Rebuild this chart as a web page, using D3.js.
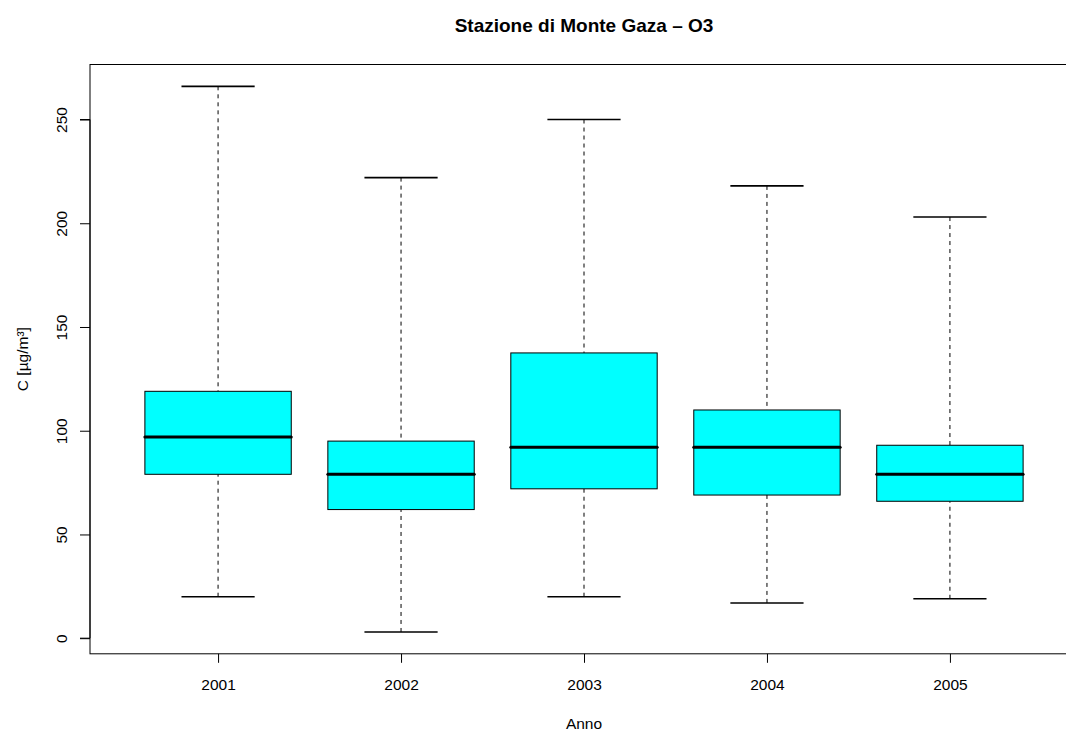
<!DOCTYPE html>
<html><head><meta charset="utf-8">
<script src="https://cdn.jsdelivr.net/npm/d3@7"></script>
<style>body{margin:0;background:#fff;overflow:hidden}svg{display:block;font-family:"Liberation Sans",Arial,sans-serif}</style>
</head><body>
<script>
const categories = ["2001","2002","2003","2004","2005"];
const whiskerLow = [20, 3, 20, 17, 19];
const q1 = [79, 62, 72, 69, 66];
const medians = [97, 79, 92, 92, 79];
const q3 = [119, 95, 137.5, 110, 93];
const whiskerHigh = [266, 222, 250, 218, 203];
const yTicks = [0, 50, 100, 150, 200, 250];
const title = "Stazione di Monte Gaza – O3";
const xLabel = "Anno";
const yLabel = "C [µg/m³]";

const W = 1066, H = 734;
const plot = {left: 90, right: 1078, top: 64.5, bottom: 653.8};
const FONT = "Liberation Sans, Arial, sans-serif";

const svg = d3.select("body").append("svg").attr("width", W).attr("height", H);

const x = d3.scaleLinear().domain([0.3, 5.7]).range([plot.left, plot.right]);
const dataMin = d3.min(whiskerLow), dataMax = d3.max(whiskerHigh);
const pad = (dataMax - dataMin) * 0.04;
const y = d3.scaleLinear().domain([dataMin - pad, dataMax + pad]).range([plot.bottom, plot.top]);

const data = categories.map((c, i) => ({c, i: i + 1, lo: whiskerLow[i], q1: q1[i], med: medians[i], q3: q3[i], hi: whiskerHigh[i]}));
const bw = 0.8, half = bw / 2;

const g = svg.append("g");
data.forEach(d => {
  g.append("line").attr("x1", x(d.i)).attr("x2", x(d.i)).attr("y1", y(d.hi)).attr("y2", y(d.q3))
    .attr("stroke", "#000").attr("stroke-width", 1).attr("stroke-dasharray", "4,4");
  g.append("line").attr("x1", x(d.i)).attr("x2", x(d.i)).attr("y1", y(d.lo)).attr("y2", y(d.q1))
    .attr("stroke", "#000").attr("stroke-width", 1).attr("stroke-dasharray", "4,4");
  [d.lo, d.hi].forEach(v => {
    g.append("line").attr("x1", x(d.i - half / 2)).attr("x2", x(d.i + half / 2))
      .attr("y1", y(v)).attr("y2", y(v)).attr("stroke", "#000").attr("stroke-width", 1.6);
  });
  g.append("rect").attr("x", x(d.i - half)).attr("width", x(d.i + half) - x(d.i - half))
    .attr("y", y(d.q3)).attr("height", y(d.q1) - y(d.q3))
    .attr("fill", "#00FFFF").attr("stroke", "#000").attr("stroke-width", 1);
  g.append("line").attr("x1", x(d.i - half)).attr("x2", x(d.i + half))
    .attr("y1", y(d.med)).attr("y2", y(d.med)).attr("stroke", "#000").attr("stroke-width", 3)
    .attr("stroke-linecap", "round");
});

svg.append("rect").attr("x", plot.left).attr("y", plot.top)
  .attr("width", plot.right - plot.left).attr("height", plot.bottom - plot.top)
  .attr("fill", "none").attr("stroke", "#000").attr("stroke-width", 1);

const yAxis = d3.axisLeft(y).tickValues(yTicks).tickSize(10).tickPadding(0).tickFormat(d3.format("d"));
const ya = svg.append("g").attr("transform", `translate(${plot.left},0)`).call(yAxis);
ya.select(".domain").attr("d", `M-10,${y(0)}H0V${y(250)}H-10`).attr("stroke", "#000");
ya.selectAll(".tick line").attr("stroke", "#000");
ya.selectAll(".tick text").attr("font-size", 15.5).attr("fill", "#000")
  .attr("font-family", FONT)
  .attr("transform", "translate(-23,0) rotate(-90)").attr("x", 0).attr("y", 0).attr("dy", 0)
  .attr("text-anchor", "middle");

const xAxis = d3.axisBottom(x).tickValues(data.map(d => d.i)).tickSize(9).tickPadding(0)
  .tickFormat((v, i) => categories[i]);
const xa = svg.append("g").attr("transform", `translate(0,${plot.bottom})`).call(xAxis);
xa.select(".domain").remove();
xa.selectAll(".tick line").attr("stroke", "#000");
xa.selectAll(".tick text").attr("font-size", 15.5).attr("fill", "#000")
  .attr("font-family", FONT).attr("y", 36).attr("dy", 0);

const cx = (plot.left + plot.right) / 2;
svg.append("text").attr("x", cx).attr("y", 32).attr("text-anchor", "middle")
  .attr("font-size", 19).attr("font-weight", "bold").text(title);
svg.append("text").attr("x", cx).attr("y", 729).attr("text-anchor", "middle")
  .attr("font-size", 15.5).text(xLabel);
svg.append("text").attr("transform", `translate(28,${(plot.top + plot.bottom) / 2}) rotate(-90)`)
  .attr("text-anchor", "middle").attr("font-size", 15.5).text(yLabel);
</script>
</body></html>
